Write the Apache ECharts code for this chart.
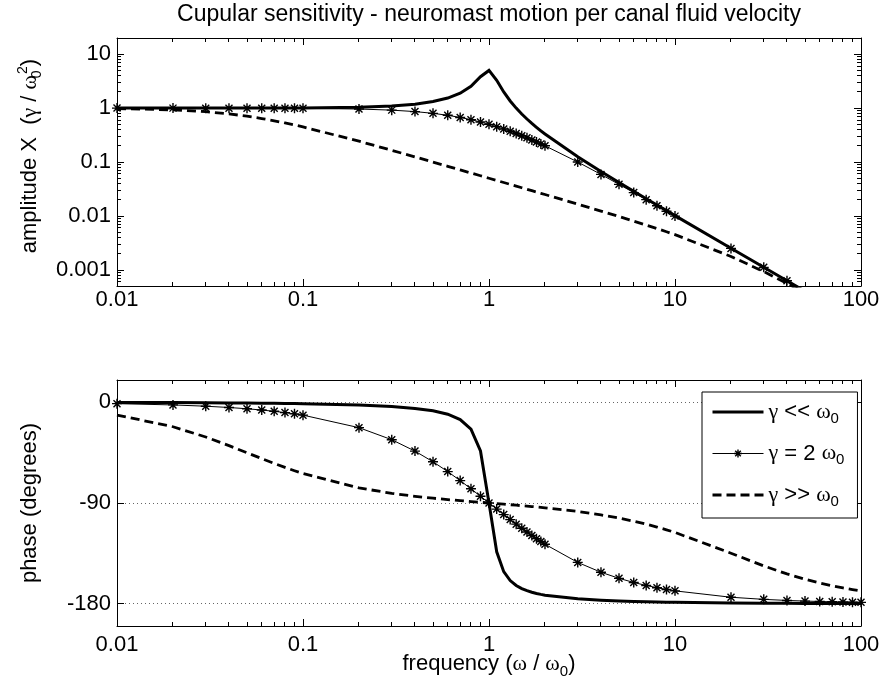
<!DOCTYPE html>
<html>
<head>
<meta charset="utf-8">
<title>Cupular sensitivity</title>
<script src="https://cdn.jsdelivr.net/npm/echarts@6.0.0/dist/echarts.min.js"></script>
<style>
  html, body { margin: 0; padding: 0; background: #fff; }
  #chart { width: 881px; height: 692px; }
</style>
</head>
<body>
<div id="chart"></div>
<script>
// Normalised frequency samples (omega / omega0)
const freq = [0.01, 0.02, 0.03, 0.04, 0.05, 0.06, 0.07, 0.08, 0.09,
  0.1, 0.2, 0.3, 0.4, 0.5, 0.6, 0.7, 0.8, 0.9,
  1.0, 1.1, 1.2, 1.3, 1.4, 1.5, 1.6, 1.7, 1.8, 1.9,
  2, 3, 4, 5, 6, 7, 8, 9,
  10, 20, 30, 40, 50, 60, 70, 80, 90, 100];

// Amplitude X (gamma / omega0^2)
const ampLow = [1.000, 1.000, 1.001, 1.002, 1.003, 1.004, 1.005, 1.006, 1.008,
  1.010, 1.041, 1.097, 1.185, 1.322, 1.536, 1.891, 2.538, 3.821,
  5.000, 3.288, 1.995, 1.356, 1.000, 0.7779, 0.6279, 0.5207, 0.4408, 0.3791,
  0.3304, 0.1247, 0.06657, 0.04163, 0.02855, 0.02083, 0.01587, 0.01250,
  0.01010, 0.002506, 0.001112, 0.0006254, 0.0004002, 0.0002779, 0.0002041, 0.0001563, 0.0001235, 0.0001000];
const ampMid = [0.9999, 0.9996, 0.9991, 0.9984, 0.9975, 0.9964, 0.9951, 0.9936, 0.9920,
  0.9901, 0.9615, 0.9174, 0.8621, 0.8000, 0.7353, 0.6711, 0.6098, 0.5525,
  0.5000, 0.4525, 0.4098, 0.3717, 0.3378, 0.3077, 0.2809, 0.2571, 0.2358, 0.2169,
  0.2000, 0.1000, 0.05882, 0.03846, 0.02703, 0.02000, 0.01538, 0.01220,
  0.009901, 0.002494, 0.001110, 0.0006246, 0.0003998, 0.0002777, 0.0002040, 0.0001562, 0.0001234, 0.0001000];
const ampHigh = [0.9807, 0.9288, 0.8581, 0.7816, 0.7080, 0.6411, 0.5822, 0.5310, 0.4866,
  0.4481, 0.2431, 0.1648, 0.1243, 0.09972, 0.08322, 0.07138, 0.06248, 0.05555,
  0.05000, 0.04545, 0.04166, 0.03845, 0.03569, 0.03330, 0.03121, 0.02937, 0.02772, 0.02625,
  0.02493, 0.01652, 0.01229, 0.009724, 0.008000, 0.006757, 0.005815, 0.005077,
  0.004481, 0.001770, 0.0009252, 0.0005593, 0.0003715, 0.0002636, 0.0001963, 0.0001516, 0.0001205, 0.0000981];

// Phase (degrees)
const phaseLow = [-0.11, -0.23, -0.34, -0.46, -0.57, -0.69, -0.81, -0.92, -1.04,
  -1.16, -2.39, -3.77, -5.44, -7.59, -10.62, -15.35, -23.96, -43.45,
  -90.00, -133.67, -151.39, -159.35, -163.74, -166.50, -168.41, -169.80, -170.87, -171.72,
  -172.41, -175.71, -176.95, -177.61, -178.04, -178.33, -178.55, -178.71,
  -178.84, -179.43, -179.62, -179.71, -179.77, -179.81, -179.84, -179.86, -179.87, -179.89];
const phaseMid = [-1.15, -2.29, -3.44, -4.58, -5.72, -6.87, -8.01, -9.15, -10.29,
  -11.42, -22.62, -33.40, -43.60, -53.13, -61.93, -69.98, -77.32, -83.97,
  -90.00, -95.45, -100.39, -104.86, -108.92, -112.62, -115.99, -119.07, -121.89, -124.48,
  -126.87, -143.13, -151.93, -157.38, -161.08, -163.74, -165.75, -167.32,
  -168.58, -174.28, -176.18, -177.14, -177.71, -178.09, -178.36, -178.57, -178.73, -178.85];
const phaseHigh = [-11.31, -21.81, -30.99, -38.70, -45.07, -50.30, -54.60, -58.16, -61.14,
  -63.67, -76.50, -81.38, -84.01, -85.71, -86.95, -87.91, -88.71, -89.40,
  -90.00, -90.55, -91.05, -91.52, -91.96, -92.39, -92.79, -93.18, -93.56, -93.93,
  -94.29, -97.59, -100.62, -103.50, -106.26, -108.93, -111.50, -113.96,
  -116.34, -134.93, -146.28, -153.42, -158.19, -161.56, -164.05, -165.96, -167.47, -168.69];

// Series names (legend order)
const seriesNames = ['γ << ω0', 'γ = 2 ω0', 'γ >> ω0'];

// Tick labels and tick positions
const freqTickLabels = ['0.01', '0.1', '1', '10', '100'];
const ampTickLabels = ['0.001', '0.01', '0.1', '1', '10'];
const phaseTickLabels = ['-180', '-90', '0'];
const phaseTicks = [-180, -90, 0];
const freqMinorTicks = [0.02, 0.03, 0.04, 0.05, 0.06, 0.07, 0.08, 0.09,
  0.2, 0.3, 0.4, 0.5, 0.6, 0.7, 0.8, 0.9,
  2, 3, 4, 5, 6, 7, 8, 9,
  20, 30, 40, 50, 60, 70, 80, 90];
const ampMinorTicks = [0.0006, 0.0007, 0.0008, 0.0009,
  0.002, 0.003, 0.004, 0.005, 0.006, 0.007, 0.008, 0.009,
  0.02, 0.03, 0.04, 0.05, 0.06, 0.07, 0.08, 0.09,
  0.2, 0.3, 0.4, 0.5, 0.6, 0.7, 0.8, 0.9,
  2, 3, 4, 5, 6, 7, 8, 9];

const titleText = 'Cupular sensitivity - neuromast motion per canal fluid velocity';

const SANS = '"Liberation Sans", Arial, Helvetica, sans-serif';
const SERIF = '"Liberation Serif", "Times New Roman", serif';
const FS = 22;
const MAJOR = 7, MINOR = 4;
const ASTERISK = 'path://M0,-10L0,10M-10,0L10,0M-7,-7L7,7M-7,7L7,-7';
const CLEAR = 'rgba(0,0,0,0)';

const pairs = (xs, ys) => xs.map((x, i) => [x, ys[i]]);

function logLabeler(labels) {
  return function (v) {
    for (const s of labels) {
      if (Math.abs(Math.log10(v) - Math.log10(Number(s))) < 1e-6) return s;
    }
    return '';
  };
}
function linLabeler(labels) {
  return function (v) {
    const s = String(Math.round(v));
    return labels.indexOf(s) >= 0 && Math.abs(v - Math.round(v)) < 1e-6 ? s : '';
  };
}

const labelStyle = { color: '#000', fontSize: FS, fontFamily: SANS };
const axisLineStyle = { show: true, onZero: false, lineStyle: { color: '#000', width: 1 } };
const majorTick = { show: true, inside: true, length: MAJOR, lineStyle: { color: '#000', width: 1 } };

function freqAxis(gridIndex, position, showLabels, margin) {
  return {
    type: 'log', logBase: 10, min: 0.01, max: 100, gridIndex: gridIndex, position: position,
    axisLine: axisLineStyle, axisTick: majorTick,
    axisLabel: Object.assign({ show: showLabels, margin: margin, formatter: logLabeler(freqTickLabels) }, labelStyle),
    splitLine: { show: false }
  };
}
function ampAxis(position, showLabels) {
  return {
    type: 'log', logBase: 10, min: 0.0005, max: 20, gridIndex: 0, position: position,
    axisLine: axisLineStyle, axisTick: majorTick,
    axisLabel: Object.assign({ show: showLabels, margin: 6, formatter: logLabeler(ampTickLabels) }, labelStyle),
    splitLine: { show: false }
  };
}
function phaseAxis(position, showLabels) {
  return {
    type: 'value', min: -200, max: 20, interval: 10, gridIndex: 1, position: position,
    axisLine: axisLineStyle, axisTick: { show: false },
    axisLabel: Object.assign({ show: showLabels, margin: 6, formatter: linLabeler(phaseTickLabels) }, labelStyle),
    splitLine: { show: false }
  };
}

const crisp = v => Math.round(v - 0.5) + 0.5;
const tickLine = (x1, y1, x2, y2) => ({ type: 'line', shape: { x1: x1, y1: y1, x2: x2, y2: y2 }, style: { stroke: '#000', lineWidth: 1 } });

// Minor ticks along the top and bottom frame edges
function renderXMinor(params, api) {
  const cs = params.coordSys;
  const x = crisp(api.coord([api.value(0), api.value(1)])[0]);
  const b = cs.y + cs.height;
  return { type: 'group', children: [tickLine(x, b, x, b - MINOR), tickLine(x, cs.y, x, cs.y + MINOR)] };
}
// Minor ticks along the left and right frame edges
function renderYMinor(params, api) {
  const cs = params.coordSys;
  const y = crisp(api.coord([api.value(0), api.value(1)])[1]);
  const r = cs.x + cs.width;
  return { type: 'group', children: [tickLine(cs.x, y, cs.x + MINOR, y), tickLine(r - MINOR, y, r, y)] };
}
// Dotted grid lines and major ticks of the phase axis
function renderPhaseGrid(params, api) {
  const cs = params.coordSys;
  const y = crisp(api.coord([api.value(0), api.value(1)])[1]);
  const r = cs.x + cs.width;
  return { type: 'group', children: [
    { type: 'line', shape: { x1: cs.x, y1: y, x2: r, y2: y }, style: { stroke: '#666', lineWidth: 1, lineDash: [1, 3] } },
    tickLine(cs.x, y, cs.x + MAJOR, y),
    tickLine(r - MAJOR, y, r, y)
  ] };
}

function customTicks(xi, yi, data, render) {
  return { type: 'custom', xAxisIndex: xi, yAxisIndex: yi, data: data, renderItem: render,
    silent: true, z: 1, animation: false, clip: false };
}

// Line / marker styles of the three damping cases
const lineStyles = [
  { color: '#000', width: 3, join: 'miter' },
  { color: '#000', width: 1 },
  { color: '#000', width: 2.8, type: [9, 5], join: 'miter' }
];
const markStyles = [
  { color: CLEAR, borderColor: CLEAR, borderWidth: 0 },
  { color: '#000', borderColor: '#000', borderWidth: 1.4 },
  { color: CLEAR, borderColor: CLEAR, borderWidth: 0 }
];
const symbols = ['none', ASTERISK, 'none'];

function lineSeries(k, xi, yi, values) {
  return {
    type: 'line', name: seriesNames[k], xAxisIndex: xi, yAxisIndex: yi,
    data: pairs(freq, values), silent: true, emphasis: { disabled: true }, animation: false, z: 2,
    symbol: symbols[k], symbolSize: 10, showSymbol: k === 1, showAllSymbol: true,
    itemStyle: markStyles[k], lineStyle: lineStyles[k]
  };
}

const legendRich = {
  g: { fontFamily: SERIF, fontSize: 22, lineHeight: 28, color: '#000' },
  s: { fontFamily: SANS, fontSize: 15, lineHeight: 10, verticalAlign: 'bottom', color: '#000' }
};
const richName = n => n.replace(/^γ/, '{g|γ}').replace(/ω0$/, '{g|ω}{s|0}');

const option = {
  backgroundColor: '#fff',
  animation: false,
  grid: [
    { left: 117, top: 38, width: 744, height: 248, containLabel: false, outerBoundsMode: 'none' },
    { left: 117, top: 380, width: 744, height: 246, containLabel: false, outerBoundsMode: 'none' }
  ],
  xAxis: [
    freqAxis(0, 'bottom', true, 3),
    freqAxis(0, 'top', false, 0),
    freqAxis(1, 'bottom', true, 8),
    freqAxis(1, 'top', false, 0)
  ],
  yAxis: [
    ampAxis('left', true),
    ampAxis('right', false),
    phaseAxis('left', true),
    phaseAxis('right', false)
  ],
  legend: {
    data: seriesNames.map((n, k) => ({
      name: n,
      lineStyle: lineStyles[k],
      itemStyle: markStyles[k]
    })),
    orient: 'vertical',
    left: 702, top: 392,
    padding: [6, 13, 9, 9],
    itemWidth: 51, itemHeight: 10, itemGap: 13.5,
    backgroundColor: '#fff', borderColor: '#000', borderWidth: 1, borderRadius: 0,
    selectedMode: false,
    formatter: richName,
    textStyle: { color: '#000', fontFamily: SANS, fontSize: FS, lineHeight: 28, rich: legendRich }
  },
  graphic: [
    { type: 'text', x: 489, y: 15, silent: true,
      style: { text: titleText, fontFamily: SANS, fontSize: 23, fill: '#000',
        align: 'center', verticalAlign: 'middle', textAlign: 'center', textVerticalAlign: 'middle' } },
    { type: 'text', x: 30, y: 156, rotation: Math.PI / 2, silent: true,
      style: { text: 'amplitude X  ({g|γ} / {g|ω}{s|0}{p|2})',
        fontFamily: SANS, fontSize: FS, lineHeight: 28, fill: '#000',
        align: 'center', verticalAlign: 'middle', textAlign: 'center', textVerticalAlign: 'middle',
        rich: {
          g: { fontFamily: SERIF, fontSize: 22, lineHeight: 28, fill: '#000' },
          s: { fontFamily: SANS, fontSize: 14, lineHeight: 10, width: 1, verticalAlign: 'bottom', fill: '#000' },
          p: { fontFamily: SANS, fontSize: 14, lineHeight: 10, verticalAlign: 'top', fill: '#000' }
        } } },
    { type: 'text', x: 30, y: 503, rotation: Math.PI / 2, silent: true,
      style: { text: 'phase (degrees)', fontFamily: SANS, fontSize: FS, fill: '#000',
        align: 'center', verticalAlign: 'middle', textAlign: 'center', textVerticalAlign: 'middle' } },
    { type: 'text', x: 489, y: 664, silent: true,
      style: { text: 'frequency ({g|ω} / {g|ω}{s|0})',
        fontFamily: SANS, fontSize: FS, lineHeight: 30, fill: '#000',
        align: 'center', verticalAlign: 'middle', textAlign: 'center', textVerticalAlign: 'middle',
        rich: {
          g: { fontFamily: SERIF, fontSize: 22, lineHeight: 30, fill: '#000' },
          s: { fontFamily: SANS, fontSize: 15, lineHeight: 10, verticalAlign: 'bottom', fill: '#000' }
        } } }
  ],
  series: [
    customTicks(0, 0, freqMinorTicks.map(v => [v, 1]), renderXMinor),
    customTicks(0, 0, ampMinorTicks.map(v => [1, v]), renderYMinor),
    customTicks(2, 2, freqMinorTicks.map(v => [v, 0]), renderXMinor),
    customTicks(2, 2, phaseTicks.map(v => [1, v]), renderPhaseGrid),
    lineSeries(0, 0, 0, ampLow),
    lineSeries(1, 0, 0, ampMid),
    lineSeries(2, 0, 0, ampHigh),
    lineSeries(0, 2, 2, phaseLow),
    lineSeries(1, 2, 2, phaseMid),
    lineSeries(2, 2, 2, phaseHigh)
  ]
};

const chart = echarts.init(document.getElementById('chart'), null, { renderer: 'canvas' });
chart.setOption(option);
</script>
</body>
</html>
